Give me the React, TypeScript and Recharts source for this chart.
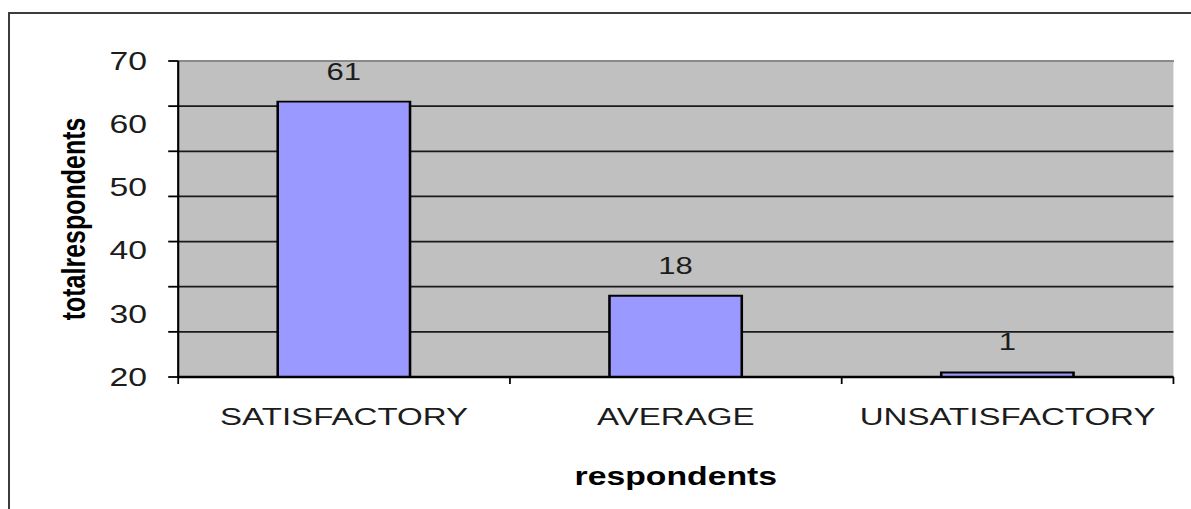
import {
  BarChart, Bar, XAxis, YAxis, CartesianGrid, LabelList, ReferenceLine
} from "recharts";

// the source picture is stretched sideways, so draw narrow then scale
const STRETCH = 1.35;
const W = 1191 / STRETCH;
const H = 509;

const categories = ["SATISFACTORY", "AVERAGE", "UNSATISFACTORY"];
const totals = [61, 18, 1];
const gridTicks = [0, 10, 20, 30, 40, 50, 60, 70];
const labelTicks = [20, 30, 40, 50, 60, 70];

const FONT = '"Liberation Sans", Arial, sans-serif';
const INK = "#1c1c1c";
const CAT_MARGIN = 31;

const NoLabel = () => <g />;

// excel puts the x tick marks between categories, not under them
function CategoryTick(props: any) {
  const { x, y, payload } = props;
  const half = payload?.offset ?? 0;
  const top = y - CAT_MARGIN;
  const isLast = payload?.value === categories[categories.length - 1];
  return (
    <g>
      <line x1={x - half} x2={x - half} y1={top} y2={top + 7} stroke="#000" strokeWidth={1.3} />
      {isLast && <line x1={x + half} x2={x + half} y1={top} y2={top + 7} stroke="#000" strokeWidth={1.3} />}
      <text x={x} y={y} dy="0.71em" textAnchor="middle" fill={INK} fontSize={24.5} fontFamily={FONT}>
        {payload?.value}
      </text>
    </g>
  );
}

export default function App() {
  const data = categories.map((name, i) => ({ name, total: totals[i] }));

  return (
    <div style={{ position: "absolute", left: 0, top: 0, width: 1191, height: H, overflow: "hidden", background: "#fff" }}>
      <div style={{ position: "absolute", left: 8, top: 12, width: 1250, height: 560, border: "2px solid #3c3c3c" }} />
      <div style={{ position: "absolute", left: 0, top: 0, width: W, height: H, transform: `scaleX(${STRETCH})`, transformOrigin: "0 0" }}>
        <BarChart
          width={W}
          height={H}
          data={data}
          margin={{ top: 61, right: 13, bottom: 0, left: 0 }}
          barCategoryGap="30%"
          style={{ fontFamily: FONT }}
        >
          <CartesianGrid
            yAxisId="y1grid"
            xAxisId="cat"
            vertical={false}
            fill="#c0c0c0"
            fillOpacity={1}
            stroke="#1a1a1a"
            strokeWidth={1.8}
          />
          <XAxis
            xAxisId="cat"
            dataKey="name"
            height={132}
            interval={0}
            axisLine={{ stroke: "#000", strokeWidth: 2.6 }}
            tickLine={false}
            tickSize={0}
            tickMargin={CAT_MARGIN}
            tick={<CategoryTick />}
            label={{
              value: "respondents",
              position: "insideBottom",
              offset: 24,
              style: { fill: "#000", fontSize: 25, fontWeight: 700, fontFamily: FONT, textAnchor: "middle" },
            }}
          />
          <YAxis
            yAxisId="y1grid"
            domain={[0, 70]}
            allowDataOverflow
            ticks={gridTicks}
            interval={0}
            tick={NoLabel}
            width={8}
            tickSize={7.4}
            axisLine={{ stroke: "#000", strokeWidth: 1.6 }}
            tickLine={{ stroke: "#000", strokeWidth: 1.8 }}
          />
          <YAxis
            yAxisId="y2labels"
            domain={[20, 70]}
            allowDataOverflow
            ticks={labelTicks}
            interval={0}
            width={124}
            axisLine={false}
            tickLine={false}
            tickSize={0}
            tickMargin={15}
            tick={{ fill: INK, fontSize: 25, fontFamily: FONT }}
            label={{
              value: "totalrespondents",
              angle: -90,
              position: "insideLeft",
              offset: 54,
              style: { fill: "#000", fontSize: 25, fontWeight: 700, fontFamily: FONT, textAnchor: "middle" },
            }}
          />
          <ReferenceLine yAxisId="y1grid" xAxisId="cat" y={70} stroke="#8a8a8a" strokeWidth={1.8} />
          <ReferenceLine
            yAxisId="y1grid"
            xAxisId="cat"
            x={categories[categories.length - 1]}
            position="end"
            stroke="#8a8a8a"
            strokeWidth={1.5}
          />
          <Bar
            dataKey="total"
            xAxisId="cat"
            yAxisId="y1grid"
            fill="#9999ff"
            stroke="#000"
            strokeWidth={1.9}
            isAnimationActive={false}
          >
            <LabelList
              dataKey="total"
              position="top"
              offset={22}
              style={{ fill: INK, fontSize: 23, fontFamily: FONT }}
            />
          </Bar>
        </BarChart>
      </div>
    </div>
  );
}
